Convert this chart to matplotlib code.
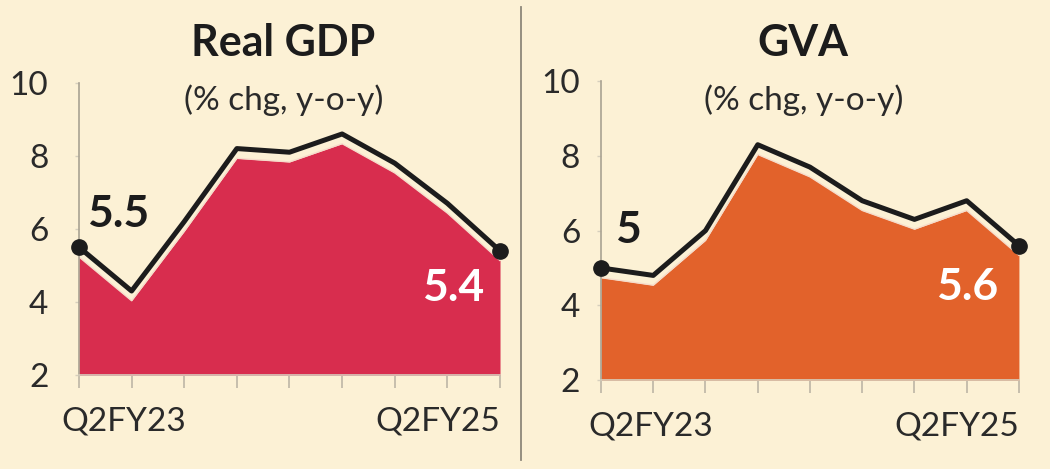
import matplotlib.pyplot as plt
from matplotlib.transforms import ScaledTranslation
from matplotlib.lines import Line2D

# Quarterly growth, % chg y-o-y, Q2FY23 .. Q2FY25
quarters = ["Q2FY23", "Q3FY23", "Q4FY23", "Q1FY24", "Q2FY24",
            "Q3FY24", "Q4FY24", "Q1FY25", "Q2FY25"]
gdp = [5.5, 4.3, 6.2, 8.2, 8.1, 8.6, 7.8, 6.7, 5.4]
gva = [5.0, 4.8, 6.0, 8.3, 7.7, 6.8, 6.3, 6.8, 5.6]
yticks = [2, 4, 6, 8, 10]

bg = "#fcf1d5"
plt.rcParams["font.family"] = ["Lato", "DejaVu Sans"]

fig = plt.figure(figsize=(10.5, 4.69), dpi=100, facecolor=bg)

panels = [
    dict(rect=[0.0752, 0.2004, 0.401, 0.623], data=gdp, color="#d82d4e",
         title="Real GDP", tx=0.270, first=(6, 24), last=(-11, -27),
         ypad=19, xshift=-13),
    dict(rect=[0.5724, 0.1898, 0.398, 0.637], data=gva, color="#e2622b",
         title="GVA", tx=0.765, first=(10, 27), last=(-15, -30),
         ypad=12, xshift=-9),
]

for p in panels:
    ax = fig.add_axes(p["rect"])
    ax.set_facecolor(bg)
    x = range(len(quarters))
    y = p["data"]

    # fill sits a little below the outline, as in the original
    shift = ax.transData + ScaledTranslation(0, -7 / 72, fig.dpi_scale_trans)
    ax.fill_between(x, 2, y, color=p["color"], lw=0, transform=shift, zorder=2)
    ax.plot(x, y, color="#f6dccb", lw=1.0, transform=shift, zorder=2.5)
    ax.plot(x, y, color="#1c1c1c", lw=3.6, solid_joinstyle="round", zorder=3)
    ax.plot([0, len(y) - 1], [y[0], y[-1]], "o", color="#1c1c1c", ms=11,
            clip_on=False, zorder=4)

    ax.annotate(f"{y[0]:g}", (0, y[0]), xytext=p["first"], textcoords="offset points",
                ha="left", va="center", fontsize=32, fontweight="bold", color="#1c1c1c")
    ax.annotate(f"{y[-1]:g}", (len(y) - 1, y[-1]), xytext=p["last"],
                textcoords="offset points", ha="right", va="center",
                fontsize=32, fontweight="bold", color="white", zorder=5)

    ax.set_xlim(0, len(quarters) - 1)
    ax.set_ylim(2, 10)
    ax.set_yticks(yticks)
    ax.set_xticks(list(x))
    ax.set_xticklabels([q if i in (0, len(quarters) - 1) else "" for i, q in enumerate(quarters)])
    ax.tick_params(axis="x", length=9, width=1.2, color="#bdb6a6", pad=14,
                   labelsize=24, labelcolor="#2a2a2a")
    ax.tick_params(axis="y", length=3, width=1, color="#d6cfbd", pad=p["ypad"],
                   labelsize=24, labelcolor="#2a2a2a")
    labels = ax.get_xticklabels()
    labels[0].set_ha("left")
    labels[0].set_transform(labels[0].get_transform()
                            + ScaledTranslation(p["xshift"] / 72, 0, fig.dpi_scale_trans))
    labels[-1].set_ha("right")
    for s in ["top", "right"]:
        ax.spines[s].set_visible(False)
    ax.spines["left"].set_color("#a9a292")
    ax.spines["left"].set_linewidth(1.2)
    ax.spines["bottom"].set_color("#d6cfbd")
    ax.spines["bottom"].set_linewidth(1.2)

    fig.text(p["tx"], 0.908, p["title"], ha="center", va="center",
             fontsize=31, fontweight="bold", color="#1c1c1c")
    fig.text(p["tx"], 0.787, "(% chg, y-o-y)", ha="center", va="center",
             fontsize=24, color="#2a2a2a")

fig.add_artist(Line2D([0.496, 0.496], [0.02, 0.985], color="#8d877a", lw=1.3))

fig.savefig("out.png", dpi=100, facecolor=bg)
